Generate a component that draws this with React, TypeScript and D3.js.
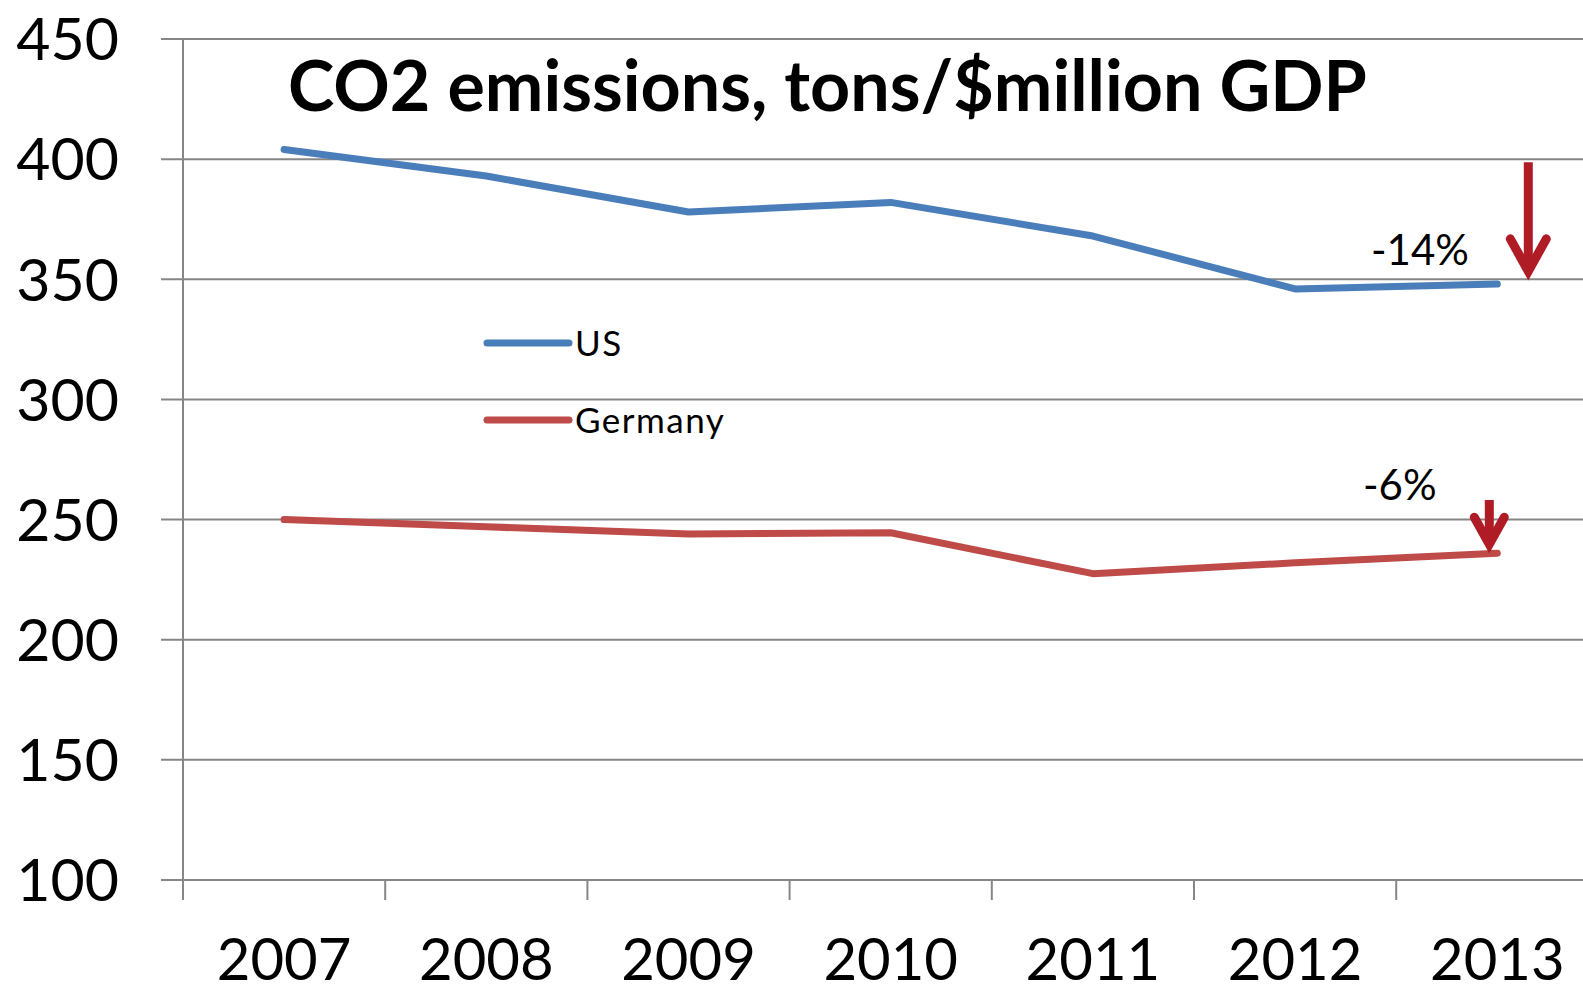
import React, { useEffect, useRef } from "react";
import * as d3 from "d3";

const years = ["2007", "2008", "2009", "2010", "2011", "2012", "2013"];
const usValues = [404, 393, 378, 382, 368, 346, 348];
const germanyValues = [250, 247, 244, 244.5, 227.5, 232, 236];
const yTicks = [100, 150, 200, 250, 300, 350, 400, 450];
const seriesNames = ["US", "Germany"];
const seriesColors = ["#4A7EBB", "#BE4B48"];
const changeLabels = ["-14%", "-6%"];

const W = 1583;
const H = 991;

function Chart() {
  const ref = useRef<SVGSVGElement>(null);

  useEffect(() => {
    const svg = d3.select(ref.current);
    svg.selectAll("*").remove();

    const left = 183;
    const bandW = 202.2;
    const x = d3.scaleBand().domain(years).range([left, left + bandW * years.length]).padding(0);
    const y = d3.scaleLinear().domain([100, 450]).range([880, 39]);
    const cx = (d: string) => (x(d) as number) + x.bandwidth() / 2;
    const font = "Lato, 'Open Sans', sans-serif";

    // gridlines (they run a little past the axis to make the tick marks)
    svg.append("g")
      .selectAll("line")
      .data(yTicks)
      .join("line")
      .attr("x1", left - 22)
      .attr("x2", W)
      .attr("y1", d => y(d))
      .attr("y2", d => y(d))
      .attr("stroke", "#868686")
      .attr("stroke-width", 2);

    // y axis line
    svg.append("line")
      .attr("x1", left).attr("x2", left)
      .attr("y1", y(450)).attr("y2", y(100) + 20)
      .attr("stroke", "#868686").attr("stroke-width", 2);

    // x ticks at band edges
    svg.append("g")
      .selectAll("line")
      .data(years.slice(1))
      .join("line")
      .attr("x1", d => x(d) as number)
      .attr("x2", d => x(d) as number)
      .attr("y1", y(100))
      .attr("y2", y(100) + 20)
      .attr("stroke", "#868686")
      .attr("stroke-width", 2);

    // y labels
    svg.append("g")
      .selectAll("text")
      .data(yTicks)
      .join("text")
      .attr("x", 119)
      .attr("y", d => y(d))
      .attr("dy", "0.36em")
      .attr("text-anchor", "end")
      .style("font-family", font)
      .style("font-size", "59px")
      .text(d => d);

    // x labels
    svg.append("g")
      .selectAll("text")
      .data(years)
      .join("text")
      .attr("x", d => cx(d))
      .attr("y", 980)
      .attr("text-anchor", "middle")
      .style("font-family", font)
      .style("font-size", "58px")
      .text(d => d);

    // series lines
    const line = d3.line<number>()
      .x((_, i) => cx(years[i]))
      .y(d => y(d));

    [usValues, germanyValues].forEach((vals, i) => {
      svg.append("path")
        .datum(vals)
        .attr("d", line)
        .attr("fill", "none")
        .attr("stroke", seriesColors[i])
        .attr("stroke-width", 7)
        .attr("stroke-linecap", "round")
        .attr("stroke-linejoin", "round");
    });

    // title
    svg.append("text")
      .attr("x", 288)
      .attr("y", 111)
      .style("font-family", font)
      .style("font-weight", "bold")
      .style("font-size", "70px")
      .text("CO2 emissions, tons/$million GDP");

    // legend
    const legend = svg.append("g")
      .selectAll("g")
      .data(seriesNames)
      .join("g")
      .attr("transform", (_, i) => `translate(487, ${343 + i * 77})`);
    legend.append("line")
      .attr("x1", 0).attr("x2", 82)
      .attr("stroke", (_, i) => seriesColors[i])
      .attr("stroke-width", 7)
      .attr("stroke-linecap", "round");
    legend.append("text")
      .attr("x", 88)
      .attr("y", 0)
      .attr("dy", "0.36em")
      .style("font-family", font)
      .style("font-size", "35px")
      .style("letter-spacing", "1.5px")
      .text(d => d);

    // change annotations with arrows
    const last = years[years.length - 1];
    const arrowColor = "#B01C26";
    svg.append("text")
      .attr("x", 1371).attr("y", 265)
      .style("font-family", font).style("font-size", "42px")
      .text(changeLabels[0]);
    svg.append("text")
      .attr("x", 1363).attr("y", 500)
      .style("font-family", font).style("font-size", "42px")
      .text(changeLabels[1]);

    const drawArrow = (ax: number, top: number, tip: number, arm: number) => {
      svg.append("path")
        .attr("d", `M${ax},${top}L${ax},${tip - 4}`)
        .attr("stroke", arrowColor).attr("stroke-width", 9).attr("fill", "none");
      svg.append("path")
        .attr("d", `M${ax - arm},${tip - arm * 1.8}L${ax},${tip}L${ax + arm},${tip - arm * 1.8}`)
        .attr("stroke", arrowColor).attr("stroke-width", 9).attr("fill", "none")
        .attr("stroke-linecap", "round").attr("stroke-linejoin", "miter");
    };
    drawArrow(cx(last) + 31, y(400) + 3, y(350) - 8, 18);
    drawArrow(cx(last) - 8, 500, y(germanyValues[germanyValues.length - 1]) - 9, 15);
  }, []);

  return <svg ref={ref} width={W} height={H} style={{ position: "absolute", left: 0, top: 0, background: "#fff" }} />;
}

export default function App() {
  return <Chart />;
}
